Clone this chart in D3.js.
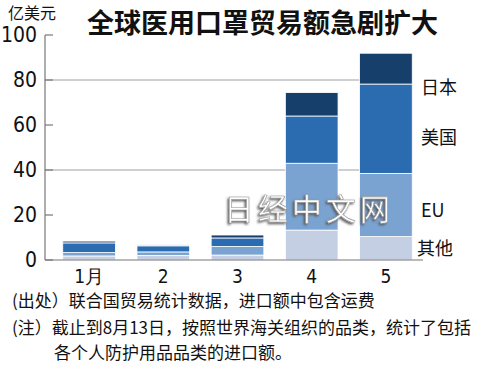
<!DOCTYPE html>
<html>
<head>
<meta charset="utf-8">
<script src="https://cdn.jsdelivr.net/npm/d3@7"></script>
<style>
  body { margin: 0; background: #fff; }
  svg text { font-family: "Noto Sans CJK SC", "Noto Sans", sans-serif; }
  .num { font-family: "Liberation Sans Narrow", "DejaVu Sans Condensed", "Liberation Sans", sans-serif; }
</style>
</head>
<body>
<div id="chart"></div>
<script>
// months on the x axis
const months = ["1月", "2", "3", "4", "5"];
// stacked series, bottom to top (100 million USD)
const seriesNames = ["其他", "EU", "美国", "日本"];
const other = [1.8, 2.0, 2.2, 13.3, 10.4];
const eu = [1.5, 1.6, 3.8, 29.7, 28.1];
const us = [4.3, 2.7, 3.8, 21.0, 39.7];
const japan = [0.8, 0.4, 1.3, 10.4, 13.7];
const yTicks = [0, 20, 40, 60, 80, 100];
const gridTicks = [40, 80];

const colors = ["#c4cfe3", "#7aa3d1", "#2b6baf", "#173f6c"];

const width = 500, height = 370;
const svg = d3.select("#chart").append("svg")
  .attr("width", width)
  .attr("height", height);

// table for the stack layout
const table = months.map((m, i) => ({
  month: m, "其他": other[i], "EU": eu[i], "美国": us[i], "日本": japan[i]
}));
const stacked = d3.stack().keys(seriesNames)(table);

const x = d3.scaleBand()
  .domain(months)
  .range([52, 423])
  .paddingInner(0.29)
  .paddingOuter(0.145);

const y = d3.scaleLinear()
  .domain([0, 100])
  .range([260, 35]);

// gridlines at 40 and 80
svg.append("g")
  .selectAll("line")
  .data(gridTicks)
  .join("line")
  .attr("x1", 45).attr("x2", 412)
  .attr("y1", d => y(d)).attr("y2", d => y(d))
  .attr("stroke", "#a0a0a0")
  .attr("stroke-width", 1);

// bars
svg.append("g")
  .selectAll("g")
  .data(stacked)
  .join("g")
  .attr("fill", (d, i) => colors[i])
  .selectAll("rect")
  .data(d => d)
  .join("rect")
  .attr("x", d => x(d.data.month))
  .attr("width", x.bandwidth())
  .attr("y", d => y(d[1]))
  .attr("height", d => y(d[0]) - y(d[1]))
  .attr("stroke", "#fff")
  .attr("stroke-width", 0.8);

// y axis
const yAxis = svg.append("g");
yAxis.append("line")
  .attr("x1", 45).attr("x2", 45)
  .attr("y1", y(100)).attr("y2", y(0))
  .attr("stroke", "#777").attr("stroke-width", 1.2);
yAxis.selectAll(".tick")
  .data(yTicks)
  .join("line")
  .attr("x1", 45).attr("x2", 53)
  .attr("y1", d => y(d)).attr("y2", d => y(d))
  .attr("stroke", "#777").attr("stroke-width", 1.2);
yAxis.selectAll("text")
  .data(yTicks)
  .join("text")
  .attr("class", "num")
  .attr("x", 37)
  .attr("y", d => y(d) + 7)
  .attr("text-anchor", "end")
  .style("font-size", "21px")
  .style("fill", "#111")
  .text(d => d);

// baseline
svg.append("line")
  .attr("x1", 45).attr("x2", 423)
  .attr("y1", y(0)).attr("y2", y(0))
  .attr("stroke", "#777").attr("stroke-width", 1.2);

// x labels
svg.append("g")
  .selectAll("text")
  .data(months)
  .join("text")
  .attr("class", "num")
  .attr("x", d => x(d) + x.bandwidth() / 2)
  .attr("y", 283)
  .attr("text-anchor", "middle")
  .style("font-size", "19px")
  .style("fill", "#111")
  .text(d => d);

// series labels on the right, next to the last bar
const labelPos = { "日本": 87, "美国": 137, "EU": 210, "其他": 248 };
svg.append("g")
  .selectAll("text")
  .data(seriesNames)
  .join("text")
  .attr("x", d => d === "其他" ? 417 : 421)
  .attr("y", d => labelPos[d] + 7)
  .style("font-size", "18px")
  .style("fill", "#111")
  .text(d => d);

// unit and title
svg.append("text")
  .attr("x", 8).attr("y", 19)
  .style("font-size", "16px")
  .style("fill", "#111")
  .text("亿美元");

svg.append("text")
  .attr("x", 87).attr("y", 33)
  .style("font-size", "27px")
  .style("font-weight", "bold")
  .style("fill", "#111")
  .text("全球医用口罩贸易额急剧扩大");

// watermark
const defs = svg.append("defs");
const f = defs.append("filter").attr("id", "wm");
f.append("feDropShadow")
  .attr("dx", -1.5).attr("dy", 1.5)
  .attr("stdDeviation", 0.8)
  .attr("flood-color", "#555");
svg.append("text")
  .attr("x", 224).attr("y", 220)
  .attr("textLength", 166)
  .style("font-size", "30px")
  .style("fill", "#fff")
  .style("stroke", "#999")
  .style("stroke-width", 0.6)
  .attr("filter", "url(#wm)")
  .text("日经中文网");

// notes
const notes = [
  { x: 12, y: 307, t: "(出处）联合国贸易统计数据，进口额中包含运费" },
  { x: 12, y: 334, t: "(注）截止到8月13日，按照世界海关组织的品类，统计了包括" },
  { x: 54, y: 359, t: "各个人防护用品品类的进口额。" }
];
svg.append("g")
  .selectAll("text")
  .data(notes)
  .join("text")
  .attr("x", d => d.x).attr("y", d => d.y)
  .style("font-size", "17px")
  .style("fill", "#111")
  .text(d => d.t);
</script>
</body>
</html>
